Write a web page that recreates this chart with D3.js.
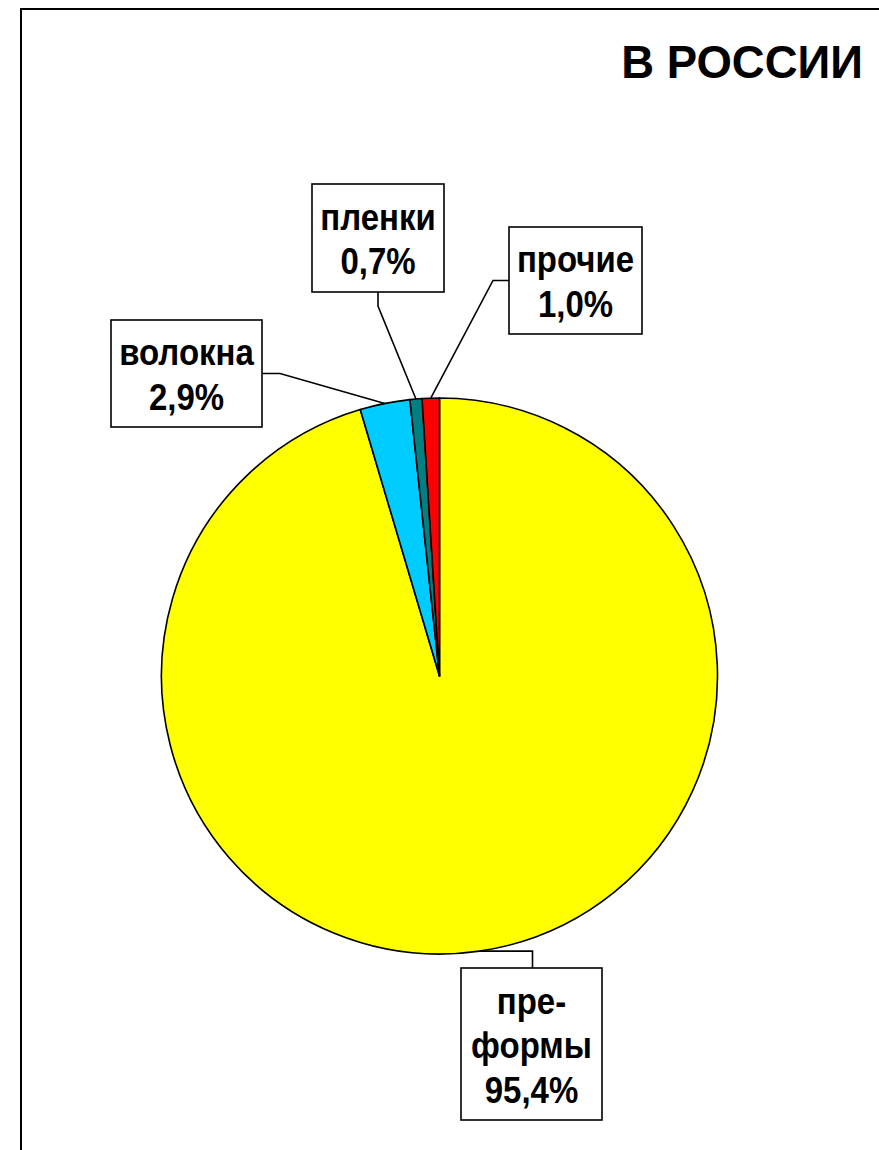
<!DOCTYPE html>
<html>
<head>
<meta charset="utf-8">
<script src="https://cdn.jsdelivr.net/npm/d3@7"></script>
<style>
  html, body { margin: 0; padding: 0; background: #fff; }
  svg { display: block; }
  text { font-family: "Liberation Sans", Arial, sans-serif; font-weight: bold; fill: #000; }
</style>
</head>
<body>
<svg id="chart" width="879" height="1150"></svg>
<script>
// ---- data ----
const title = "В РОССИИ";
const categories = ["преформы", "волокна", "пленки", "прочие"];
const labelNames = [["пре-", "формы"], ["волокна"], ["пленки"], ["прочие"]];
const values = [95.4, 2.9, 0.7, 1.0];
const colors = ["#FFFF00", "#00CCFF", "#008080", "#FF0000"];

// ---- layout ----
const W = 879, H = 1150;
const cx = 439.5, cy = 676, R = 278;
// label boxes: x, y, w, h, and leader elbow
const boxes = [
  {x: 461, y: 968, w: 141, h: 152, anchor: "top", elbow: 952},
  {x: 111, y: 320, w: 151, h: 107, anchor: "right", elbow: 280},
  {x: 312, y: 184, w: 132, h: 108, anchor: "bottom", elbow: 306},
  {x: 509, y: 227, w: 133, h: 107, anchor: "left", elbow: 493}
];
const labelFont = 33, labelScaleY = 1.12, lineGap = 44.5;

const svg = d3.select("#chart");

// frame
svg.append("rect")
  .attr("x", 21).attr("y", 9).attr("width", 1000).attr("height", 1300)
  .attr("fill", "#fff").attr("stroke", "#000").attr("stroke-width", 2);

// title
svg.append("text")
  .attr("x", 863).attr("y", 78)
  .attr("text-anchor", "end")
  .style("font-size", "45.5px")
  .text(title);

const pie = d3.pie().sort(null).value(d => d)(values);
const arc = d3.arc().innerRadius(0).outerRadius(R);
const edgeArc = d3.arc().innerRadius(R).outerRadius(R);

const g = svg.append("g").attr("transform", `translate(${cx},${cy})`);
g.selectAll("path.slice")
  .data(pie)
  .join("path")
  .attr("class", "slice")
  .attr("d", arc)
  .attr("fill", (d, i) => colors[i])
  .attr("stroke", "#000")
  .attr("stroke-width", 1.6)
  .attr("stroke-linejoin", "round");

const fmt = v => d3.format(".1f")(v).replace(".", ",") + "%";

pie.forEach((d, i) => {
  const b = boxes[i];
  const [ex, ey] = edgeArc.centroid(d);
  const px = cx + ex, py = cy + ey;
  let pts;
  if (b.anchor === "top") {
    const ax = b.x + b.w / 2 + 1;
    pts = [[px, py], [ax, py], [ax, b.y]];
  } else if (b.anchor === "bottom") {
    const ax = b.x + b.w / 2;
    pts = [[px, py], [ax, b.elbow], [ax, b.y + b.h]];
  } else if (b.anchor === "right") {
    const ay = b.y + b.h / 2;
    pts = [[px, py], [b.elbow, ay], [b.x + b.w, ay]];
  } else {
    const ay = b.y + b.h / 2;
    pts = [[px, py], [b.elbow, ay], [b.x, ay]];
  }
  svg.append("path")
    .attr("d", d3.line()(pts))
    .attr("fill", "none").attr("stroke", "#000").attr("stroke-width", 1.6);

  svg.append("rect")
    .attr("x", b.x).attr("y", b.y).attr("width", b.w).attr("height", b.h)
    .attr("fill", "#fff").attr("stroke", "#000").attr("stroke-width", 1.6);

  const lines = labelNames[i].concat([fmt(values[i])]);
  const tx = b.x + b.w / 2;
  const n = lines.length;
  const firstBaseline = b.y + b.h / 2 - (n - 1) * lineGap / 2 + 14;
  lines.forEach((ln, j) => {
    const by = firstBaseline + j * lineGap;
    svg.append("text")
      .attr("text-anchor", "middle")
      .attr("transform", `translate(${tx},${by}) scale(1,${labelScaleY})`)
      .style("font-size", labelFont + "px")
      .text(ln);
  });
});
</script>
</body>
</html>
